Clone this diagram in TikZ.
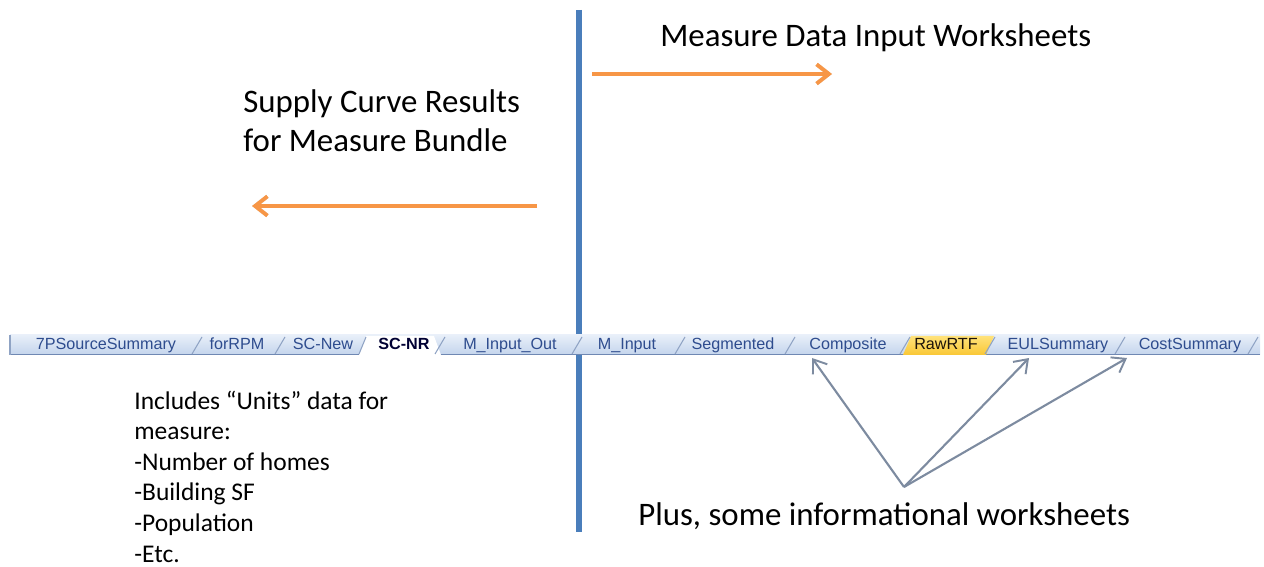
\documentclass[tikz,border=0pt]{standalone}
\usepackage{fontspec}
\setmainfont{Carlito}
\newfontfamily\tabfont{Liberation Sans}
\usetikzlibrary{arrows.meta}
\definecolor{vline}{HTML}{4A7EBB}
\definecolor{orarrow}{HTML}{F79646}
\definecolor{grarrow}{HTML}{7D8BA0}
\definecolor{tabtxt}{HTML}{2E4C8E}
\definecolor{tabtop}{HTML}{E8EFF9}
\definecolor{tabbot}{HTML}{C3D4EC}
\definecolor{tabsep}{HTML}{8FA3C4}
\definecolor{tabline}{HTML}{6F88B3}
\definecolor{yeltop}{HTML}{FFE27A}
\definecolor{yelbot}{HTML}{F9C735}
\tikzset{
  x=0.02cm, y=-0.02cm,
  bigtxt/.style={font=\fontsize{18.7}{22}\selectfont, anchor=base west, inner sep=0pt},
  smalltxt/.style={font=\fontsize{14.5}{17.4}\selectfont, anchor=base west, inner sep=0pt, align=left},
  tablbl/.style={font=\tabfont\fontsize{9.2}{10}\selectfont, text=tabtxt, anchor=base, inner sep=0pt},
  orangearrow/.style={draw=orarrow, line width=2.4pt, -{Straight Barb[length=7pt,width=11pt,line width=2.2pt]}},
  grayarrow/.style={draw=grarrow, line width=1.2pt, -{Straight Barb[length=7pt,width=10pt,line width=1.1pt]}},
}
\begin{document}
\begin{tikzpicture}
\useasboundingbox (0,0) rectangle (1264,567);
% vertical divider
\coordinate (vtop) at (579,10);
\coordinate (vbot) at (579,532);
\draw[vline, line width=3pt] (vtop) -- (vbot);

% orange arrows (with soft shadow)
\coordinate (a1s) at (592,74);
\coordinate (a1e) at (832,74);
\coordinate (a2s) at (537,206);
\coordinate (a2e) at (252,206);
\draw[orangearrow, draw=black, opacity=0.12, shift={(1,2)}] (a1s) -- (a1e);
\draw[orangearrow, draw=black, opacity=0.12, shift={(1,2)}] (a2s) -- (a2e);
\draw[orangearrow] (a1s) -- (a1e);
\draw[orangearrow] (a2s) -- (a2e);

% titles
\node[bigtxt] (mdiw) at (660,47) {Measure Data Input Worksheets};
\node[bigtxt] (scr1) at (243,113) {Supply Curve Results};
\node[bigtxt] (scr2) at (243,152) {for Measure Bundle};

% tab bar
\shade[top color=tabtop, bottom color=tabbot] (10,335) rectangle (1260,355);
\draw[tabline, line width=0.9pt] (10,354.5) -- (1260,354.5);
\draw[tabsep, line width=0.6pt] (10,335) -- (10,355);
% active tab SC-NR (white)
\fill[white] (359,355) -- (366,336) -- (434,336) -- (441,355) -- cycle;
% RawRTF tab (yellow)
\shade[top color=yeltop, bottom color=yelbot] (903,355) -- (911,336) -- (994,336) -- (986,355) -- cycle;
% separators
\foreach \sx in {197,280,440,577,680,790,905,990,1120,1253}{
  \draw[tabsep, line width=0.6pt] (\sx-5,354) -- (\sx+5,337);
}
\draw[tabsep, line width=0.6pt] (359,354) -- (366,337);
% labels
\node[tablbl] (t1) at (106,350) {7PSourceSummary};
\node[tablbl] (t2) at (237,350) {forRPM};
\node[tablbl] (t3) at (323,350) {SC-New};
\node[tablbl, font=\tabfont\bfseries\fontsize{9.2}{10}\selectfont, text=black!80!blue] (t4) at (404,350) {SC-NR};
\node[tablbl] (t5) at (510,350) {M\_Input\_Out};
\node[tablbl] (t6) at (627,350) {M\_Input};
\node[tablbl] (t7) at (733,350) {Segmented};
\node[tablbl] (t8) at (848,350) {Composite};
\node[tablbl, text=black!85!brown] (t9) at (946,350) {RawRTF};
\node[tablbl] (t10) at (1058,350) {EULSummary};
\node[tablbl] (t11) at (1190,350) {CostSummary};

% units text
\node[smalltxt] (units) at (134,562) {Includes “Units” data for\\measure:\\-Number of homes\\-Building SF\\-Population\\-Etc.};

% informational worksheets
\node[bigtxt] (plus) at (638,525) {Plus, some informational worksheets};
\coordinate (src) at (904,487);
\coordinate (c1) at (812,358);
\coordinate (c2) at (1029,358);
\coordinate (c3) at (1127,358);
\draw[grayarrow] (src) -- (c1);
\draw[grayarrow] (src) -- (c2);
\draw[grayarrow] (src) -- (c3);
\end{tikzpicture}
\end{document}
